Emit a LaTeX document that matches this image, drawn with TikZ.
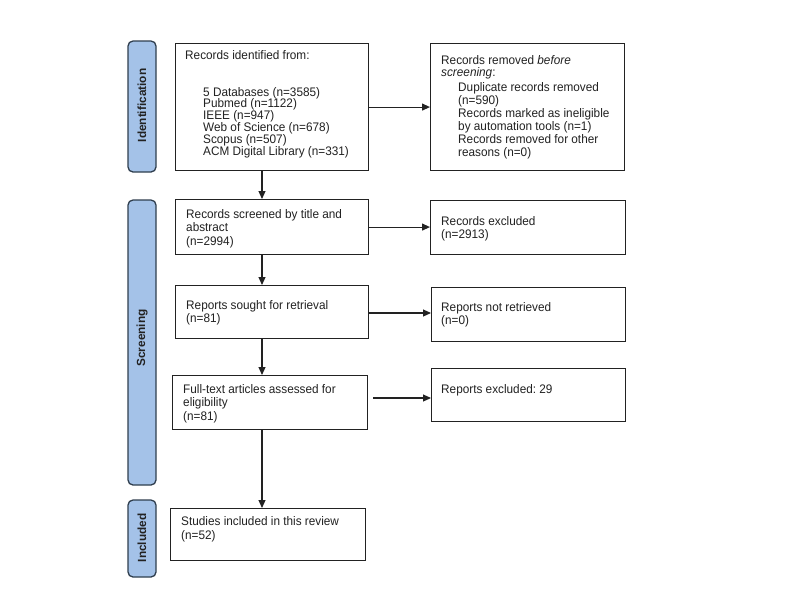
\documentclass[tikz,border=0pt]{standalone}
\usepackage{fontspec}
\setmainfont{Liberation Sans}[FakeStretch=0.95]
\newfontfamily\barfont{Liberation Sans}
\usetikzlibrary{arrows.meta,calc}
\definecolor{barfill}{HTML}{A4C2E8}
\definecolor{bardraw}{HTML}{2F3E4E}
\definecolor{ink}{HTML}{222222}
\frenchspacing
\begin{document}
\begin{tikzpicture}[x=1pt,y=1pt,
  box/.style={draw=ink,line width=1.1pt,fill=white,inner sep=0pt,anchor=north west},
  bar/.style={draw=bardraw,fill=barfill,line width=1.3pt,rounded corners=5pt,inner sep=0pt},
  barlabel/.style={rotate=90,inner sep=0pt,font=\barfont\fontsize{11.8}{12}\selectfont\bfseries,text=ink},
  txt/.style={inner sep=0pt,anchor=north west,align=left,text=ink,
     font=\frenchspacing\fontsize{12.4}{13.5}\selectfont},
  arr/.style={draw=ink,line width=1.1pt,-{Triangle[length=8pt,width=7pt]}}]
\useasboundingbox (0,0) rectangle (800,-595);
% phase bars
\node[bar,minimum width=28pt,minimum height=131pt] (p1) at (142,-106.5) {};
\node[bar,minimum width=28pt,minimum height=285pt] (p2) at (142,-342.5) {};
\node[bar,minimum width=28pt,minimum height=77pt] (p3) at (142,-538.5) {};
\node[barlabel] (l1) at (142,-105.5) {Identification};
\node[barlabel] (l2) at (142,-338) {Screening};
\node[barlabel] (l3) at (142,-538) {Included};
% boxes
\node[box,minimum width=193pt,minimum height=127pt] (b1) at (175,-43) {};
\node[box,minimum width=194pt,minimum height=127pt] (b2) at (430,-43) {};
\node[box,minimum width=193pt,minimum height=55pt] (b3) at (175,-199) {};
\node[box,minimum width=195pt,minimum height=54pt] (b4) at (430,-200) {};
\node[box,minimum width=193pt,minimum height=53pt] (b5) at (175,-285) {};
\node[box,minimum width=194pt,minimum height=54pt] (b6) at (431,-287) {};
\node[box,minimum width=195pt,minimum height=54pt] (b7) at (172,-375) {};
\node[box,minimum width=194pt,minimum height=53pt] (b8) at (431,-368) {};
\node[box,minimum width=195pt,minimum height=52pt] (b9) at (170,-508) {};
% texts
\node[txt] (t1a) at (185,-50) {Records identified from:};
\node[txt,font=\fontsize{12.4}{11.8}\selectfont] (t1b) at (203,-87) {5 Databases (n=3585)\\Pubmed (n=1122)\\IEEE (n=947)\\Web of Science (n=678)\\Scopus (n=507)\\ACM Digital Library (n=331)};
\node[txt,font=\fontsize{12.4}{12}\selectfont] (t2a) at (441,-55) {Records removed \textit{before}\\\textit{screening}:};
\node[txt,font=\fontsize{12.4}{13}\selectfont] (t2b) at (458,-82) {Duplicate records removed\\(n=590)\\Records marked as ineligible\\by automation tools (n=1)\\Records removed for other\\reasons (n=0)};
\node[txt] (t3) at (186,-209) {Records screened by title and\\abstract\\(n=2994)};
\node[txt] (t4) at (441,-216) {Records excluded\\(n=2913)};
\node[txt] (t5) at (186,-300) {Reports sought for retrieval\\(n=81)};
\node[txt] (t6) at (441,-302) {Reports not retrieved\\(n=0)};
\node[txt] (t7) at (183,-384) {Full-text articles assessed for\\eligibility\\(n=81)};
\node[txt] (t8) at (441,-384) {Reports excluded: 29};
\node[txt,font=\fontsize{12.4}{14.5}\selectfont] (t9) at (181,-516) {Studies included in this review\\(n=52)};
% connectors
\coordinate (ax) at (262,0);
\coordinate (r3) at (0,-313);
\coordinate (r4) at (373,-398);
\draw[arr] (b1.east) -- (b2.west |- b1.east);
\draw[arr] (b3.east) -- (b4.west |- b3.east);
\draw[arr] (b5.east |- r3) -- (b6.west |- r3);
\draw[arr] (r4) -- (b8.west |- r4);
\draw[arr] (b1.south -| ax) -- (b3.north -| ax);
\draw[arr] (b3.south -| ax) -- (b5.north -| ax);
\draw[arr] (b5.south -| ax) -- (b7.north -| ax);
\draw[arr] (b7.south -| ax) -- (b9.north -| ax);
\end{tikzpicture}
\end{document}
